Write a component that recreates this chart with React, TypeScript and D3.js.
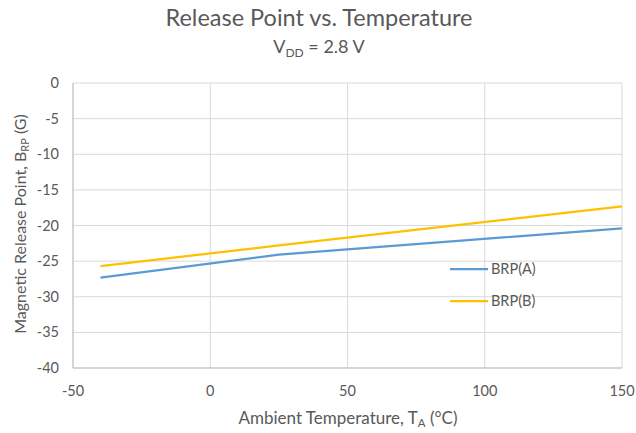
import React from "react";
import * as d3 from "d3";

const temps = [-40, 25, 150];
const brpA = [-27.3, -24.1, -20.4];
const brpB = [-25.7, -22.8, -17.3];
const seriesNames = ["BRP(A)", "BRP(B)"];
const seriesColors = ["#5B9BD5", "#FFC000"];
const xTicks = [-50, 0, 50, 100, 150];
const yTicks = [0, -5, -10, -15, -20, -25, -30, -35, -40];

const W = 636, H = 433;
const FONT = "Lato, 'Open Sans', sans-serif";
const TXT = "#595959";

export default function App() {
  const x = d3.scaleLinear().domain([-50, 150]).range([73, 622]);
  const y = d3.scaleLinear().domain([0, -40]).range([83, 368]);
  const line = d3.line<[number, number]>().x(d => x(d[0])).y(d => y(d[1]));
  const series = [brpA, brpB];
  return (
    <svg width={W} height={H} style={{ position: "absolute", left: 0, top: 0, background: "#fff" }}>
      <rect width={W} height={H} fill="#fff" />
      {yTicks.map(t => (
        <line key={"gy" + t} x1={x(-50)} x2={x(150)} y1={y(t)} y2={y(t)} stroke="#d9d9d9" strokeWidth={1} />
      ))}
      {xTicks.map(t => (
        <line key={"gx" + t} x1={x(t)} x2={x(t)} y1={y(0)} y2={y(-40)} stroke="#d9d9d9" strokeWidth={1} />
      ))}
      <line x1={x(-50)} x2={x(-50)} y1={y(0)} y2={y(-40)} stroke="#bfbfbf" strokeWidth={1} />
      <line x1={x(-50)} x2={x(150)} y1={y(-40)} y2={y(-40)} stroke="#bfbfbf" strokeWidth={1} />
      {series.map((s, i) => (
        <path key={i} d={line(temps.map((t, j) => [t, s[j]] as [number, number])) || ""} fill="none" stroke={seriesColors[i]} strokeWidth={2.25} />
      ))}
      {yTicks.map(t => (
        <text key={"ty" + t} x={59} y={y(t)} dy="0.35em" textAnchor="end" fontFamily={FONT} fontSize={14.5} fill={TXT}>{t}</text>
      ))}
      {xTicks.map(t => (
        <text key={"tx" + t} x={x(t)} y={396} textAnchor="middle" fontFamily={FONT} fontSize={14.5} fill={TXT}>{t}</text>
      ))}
      {seriesNames.map((n, i) => (
        <g key={n}>
          <line x1={450} x2={488} y1={269 + i * 32} y2={269 + i * 32} stroke={seriesColors[i]} strokeWidth={2.25} />
          <text x={491} y={269 + i * 32} dy="0.35em" fontFamily={FONT} fontSize={14.5} fill={TXT}>{n}</text>
        </g>
      ))}
      <text x={319} y={26} textAnchor="middle" fontFamily={FONT} fontSize={23.5} fill={TXT}>Release Point vs. Temperature</text>
      <text x={319} y={53} textAnchor="middle" fontFamily={FONT} fontSize={18} fill={TXT}>
        V<tspan fontSize={12} dy={4}>DD</tspan><tspan dy={-4}> = 2.8 V</tspan>
      </text>
      <text x={348} y={424} textAnchor="middle" fontFamily={FONT} fontSize={17} fill={TXT}>
        Ambient Temperature, T<tspan fontSize={11.5} dy={3}>A</tspan><tspan dy={-3}> (°C)</tspan>
      </text>
      <text transform="translate(26,224) rotate(-90)" textAnchor="middle" fontFamily={FONT} fontSize={16} fill={TXT}>
        Magnetic Release Point, B<tspan fontSize={11} dy={3}>RP</tspan><tspan dy={-3}> (G)</tspan>
      </text>
    </svg>
  );
}
